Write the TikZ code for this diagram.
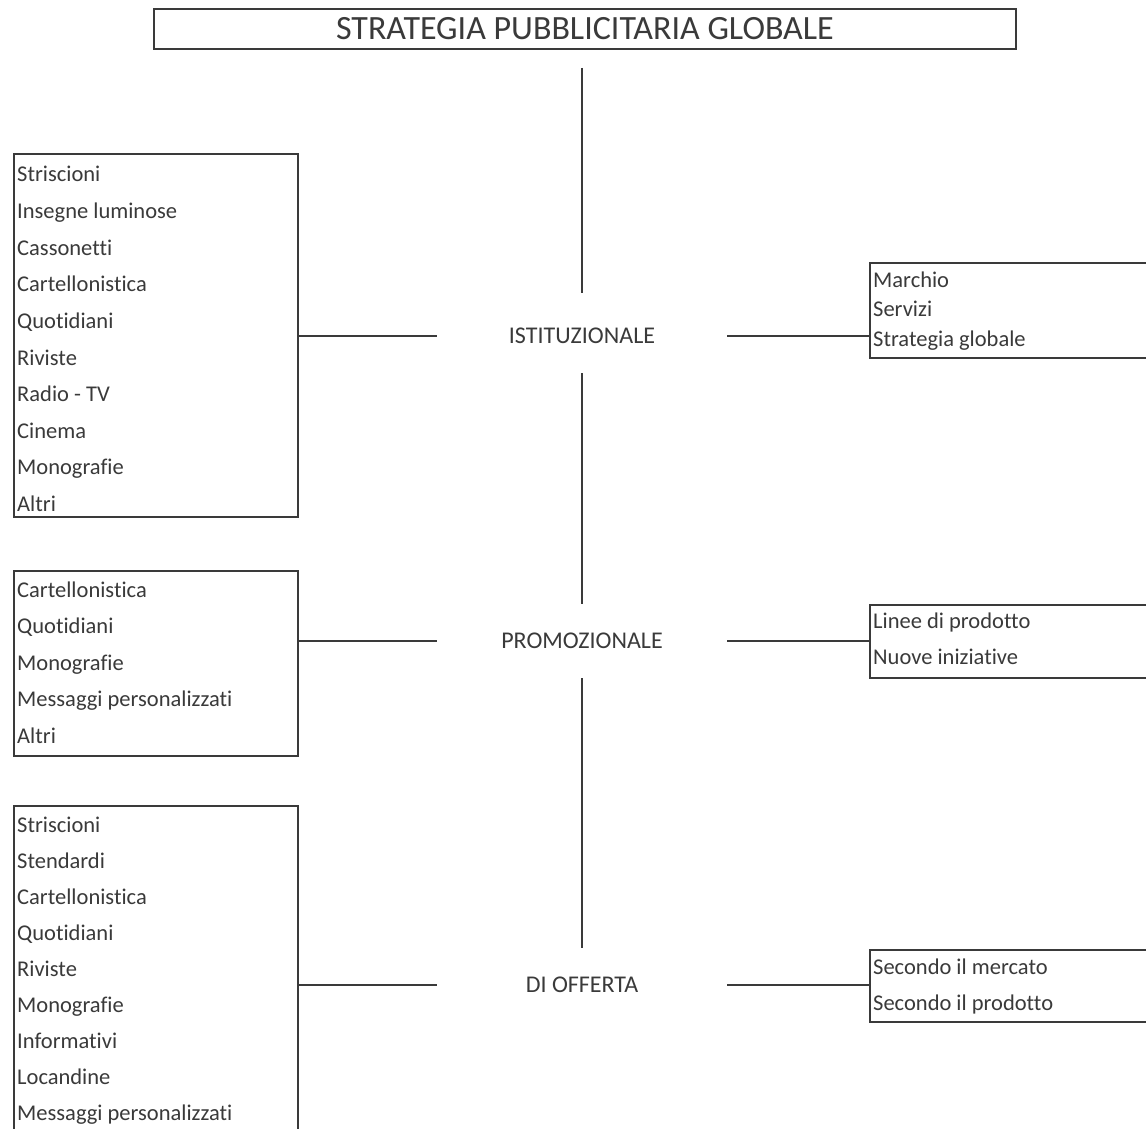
\documentclass[tikz,border=0pt]{standalone}
\usepackage{fontspec}
\setmainfont{Carlito}[Ligatures=NoCommon]
\definecolor{ink}{HTML}{3A3A3A}
\tikzset{
  frame/.style={draw=ink, line width=1.8pt, rectangle, inner sep=0pt, anchor=north west},
  item/.style={text=ink, font=\fontsize{22.5}{27}\selectfont, anchor=base west, inner sep=0pt},
  cat/.style={text=ink, font=\fontsize{24}{29}\selectfont, minimum width=290pt, minimum height=74pt, inner sep=0pt},
  link/.style={draw=ink, line width=1.8pt},
}
\begin{document}
\begin{tikzpicture}[x=1pt,y=-1pt]
\fill[white] (0,0) rectangle (1146,1129);
\useasboundingbox (0,0) rectangle (1146,1129);
% title
\node[frame, minimum width=862pt, minimum height=40pt, text=ink, font=\fontsize{34}{40}\selectfont] (T) at (153,8) {STRATEGIA PUBBLICITARIA GLOBALE};
% categories
\node[cat] (I) at (582,336) {ISTITUZIONALE};
\node[cat] (P) at (582,641) {PROMOZIONALE};
\node[cat] (D) at (582,985) {DI OFFERTA};
% left boxes
\node[frame, minimum width=284pt, minimum height=363pt] (L1) at (13,153) {};
\node[frame, minimum width=284pt, minimum height=185pt] (L2) at (13,570) {};
\node[frame, minimum width=284pt, minimum height=400pt] (L3) at (13,805) {};
% right boxes
\node[frame, minimum width=320pt, minimum height=95pt] (R1) at (869,262) {};
\node[frame, minimum width=320pt, minimum height=73pt] (R2) at (869,604) {};
\node[frame, minimum width=320pt, minimum height=72pt] (R3) at (869,949) {};
% items
\foreach \t [count=\i] in {Striscioni,Insegne luminose,Cassonetti,Cartellonistica,Quotidiani,Riviste,Radio - TV,Cinema,Monografie,Altri}
  \node[item] (la\i) at (17,{182+36.6*(\i-1)}) {\t};
\foreach \t [count=\i] in {Cartellonistica,Quotidiani,Monografie,Messaggi personalizzati,Altri}
  \node[item] (lb\i) at (17,{597+36.5*(\i-1)}) {\t};
\foreach \t [count=\i] in {Striscioni,Stendardi,Cartellonistica,Quotidiani,Riviste,Monografie,Informativi,Locandine,Messaggi personalizzati}
  \node[item] (lc\i) at (17,{832+36*(\i-1)}) {\t};
\foreach \t [count=\i] in {Marchio,Servizi,Strategia globale}
  \node[item] (ra\i) at (873,{287+29.5*(\i-1)}) {\t};
\foreach \t [count=\i] in {Linee di prodotto,Nuove iniziative}
  \node[item] (rb\i) at (873,{628+36*(\i-1)}) {\t};
\foreach \t [count=\i] in {Secondo il mercato,Secondo il prodotto}
  \node[item] (rc\i) at (873,{974+36*(\i-1)}) {\t};
% connectors
\draw[link] ([yshift=-18pt]I.north |- T.south) -- ([yshift=6pt]I.north);
\draw[link] (I.south) -- (P.north);
\draw[link] (P.south) -- (D.north);
\draw[link] (L1.east |- I.west) -- (I.west);
\draw[link] (I.east) -- (R1.west |- I.east);
\draw[link] (L2.east |- P.west) -- (P.west);
\draw[link] (P.east) -- (R2.west |- P.east);
\draw[link] (L3.east |- D.west) -- (D.west);
\draw[link] (D.east) -- (R3.west |- D.east);
\end{tikzpicture}
\end{document}
